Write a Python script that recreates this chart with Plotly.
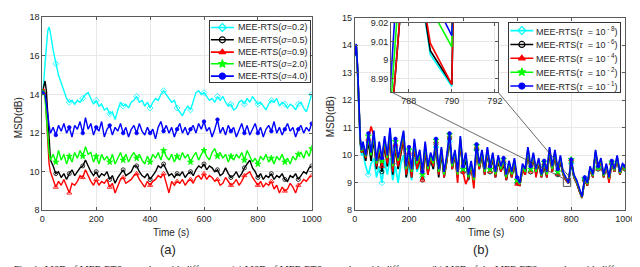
import plotly.graph_objects as go

W, H = 640, 267

# ---------------- data: panel (a) ----------------
t_a = [0, 5, 10, 15, 20, 25, 30] + list(range(40, 1001, 10))
a_s02 = [14.1, 14.6, 15.6, 16.6, 17.3, 17.5, 17.2,
         16.3, 15.6, 15.0, 14.6, 14.2, 13.8, 13.6, 13.7, 13.5, 13.7,
         13.6, 13.8, 14.0, 14.1, 13.8, 13.5, 13.7, 13.4, 13.5, 13.2,
         13.3, 13.0, 13.1, 12.7, 13.2, 13.6, 13.4, 13.5, 13.3, 13.6,
         13.7, 13.9, 13.6, 13.7, 13.4, 13.6, 13.3, 13.6, 13.8, 13.7,
         14.0, 14.2, 14.0, 13.8, 13.6, 13.7, 13.3, 13.1, 12.9, 13.2,
         13.4, 13.2, 13.6, 14.1, 14.2, 14.0, 14.1, 13.9, 13.7, 13.8,
         13.6, 13.9, 13.7, 13.9, 13.6, 13.4, 13.5, 13.2, 13.3, 13.6,
         13.7, 13.5, 13.8, 13.6, 13.9, 13.7, 13.5, 13.6, 13.4, 13.2,
         13.5, 13.7, 13.6, 13.8, 13.4, 13.6, 13.5, 13.3, 13.5, 13.4,
         13.2, 13.5, 13.6, 13.3, 13.1, 13.5, 14.0]
a_s05 = [14.1, 14.5, 14.7, 14.2, 12.8, 11.3, 10.6,
         10.3, 9.9, 10.0, 9.7, 9.9, 9.6, 9.9, 10.1, 9.8, 10.0,
         10.2, 10.3, 10.6, 10.3, 10.0, 9.8, 10.0, 9.7, 9.9, 9.8,
         10.0, 9.6, 9.8, 9.4, 9.7, 9.9, 10.1, 9.8, 9.9, 10.0,
         10.3, 10.3, 10.0, 9.8, 9.7, 9.9, 9.6, 9.8, 10.0, 10.3,
         10.2, 10.4, 10.1, 9.8, 9.9, 9.7, 9.9, 9.8, 10.0, 9.7,
         9.9, 10.0, 9.8, 10.1, 10.3, 10.2, 10.4, 10.1, 10.3, 10.2,
         10.0, 10.1, 9.8, 9.9, 10.2, 9.9, 9.7, 9.8, 10.0, 9.7,
         9.9, 10.2, 10.4, 10.6, 10.2, 10.0, 9.7, 9.9, 9.6, 9.8,
         9.7, 9.9, 9.6, 9.8, 9.7, 9.9, 9.6, 9.5, 9.8, 9.7,
         9.9, 9.6, 9.8, 10.0, 9.9, 10.2, 10.3]
a_s09 = [14.1, 14.3, 14.1, 13.0, 11.5, 10.4, 10.0,
         9.6, 9.2, 9.5, 9.3, 9.6, 9.2, 8.9, 9.4, 9.3, 9.5,
         9.8, 9.7, 10.1, 9.8, 9.5, 9.3, 9.6, 9.3, 9.5, 9.4,
         9.6, 9.2, 9.4, 8.9, 9.3, 9.6, 9.7, 9.4, 9.5, 9.6,
         9.8, 9.9, 9.6, 9.4, 9.2, 9.5, 9.3, 9.5, 9.6, 9.8,
         9.7, 9.9, 9.4, 8.9, 9.5, 9.3, 9.5, 9.4, 9.6, 9.3,
         9.5, 9.6, 9.4, 9.7, 9.8, 9.6, 9.9, 9.6, 9.8, 9.7,
         9.5, 9.6, 9.3, 9.4, 9.7, 9.5, 9.3, 9.4, 9.6, 9.3,
         9.5, 9.8, 9.9, 10.0, 9.7, 9.5, 9.3, 9.5, 9.2, 9.4,
         9.3, 9.5, 9.1, 9.3, 8.9, 9.2, 9.0, 9.1, 9.4, 9.2,
         8.9, 9.3, 9.4, 9.6, 9.5, 9.7, 9.8]
a_s20 = [14.1, 14.2, 13.8, 12.8, 11.7, 11.0, 10.6,
         10.9, 10.5, 11.1, 10.6, 10.9, 10.4, 10.8, 10.5, 11.0, 10.7,
         11.1, 10.8, 11.3, 10.9, 11.0, 10.5, 10.8, 10.4, 10.9, 10.6,
         10.8, 10.5, 10.9, 10.4, 10.7, 11.0, 10.6, 10.9, 10.5, 10.8,
         11.0, 10.7, 10.9, 10.6, 10.4, 10.8, 10.5, 10.9, 10.7, 11.0,
         10.6, 11.1, 10.8, 10.6, 10.9, 10.5, 10.8, 10.6, 11.0, 10.7,
         10.9, 10.5, 10.8, 11.0, 10.6, 10.9, 11.1, 10.8, 10.6, 11.0,
         11.2, 10.8, 11.0, 10.7, 10.9, 10.5, 10.8, 10.6, 10.9, 10.7,
         11.0, 10.6, 11.1, 10.8, 10.5, 10.7, 10.4, 10.8, 10.6, 10.9,
         10.5, 10.7, 10.4, 10.8, 10.6, 10.9, 10.5, 10.7, 10.4, 10.8,
         10.6, 10.9, 11.0, 10.7, 11.1, 10.8, 11.2]
a_s40 = [14.1, 14.1, 14.0, 13.6, 13.0, 12.4, 12.0,
         12.3, 11.9, 12.4, 12.1, 12.5, 12.0, 12.3, 11.8, 12.4, 12.2,
         12.6, 12.0, 12.8, 12.2, 12.5, 11.9, 12.3, 12.1, 12.6, 11.8,
         12.2, 12.4, 11.9, 12.3, 12.1, 12.5, 12.0, 12.3, 11.8, 12.2,
         12.4, 12.0, 12.5, 12.1, 11.9, 12.3, 12.0, 12.2, 11.7, 12.3,
         12.6, 12.1, 12.4, 12.0, 12.3, 11.8, 12.2, 12.5, 12.0, 12.3,
         11.9, 12.2, 12.4, 12.0, 12.5, 12.2, 12.6, 12.1, 12.3, 11.8,
         12.2, 12.7, 12.0, 12.3, 11.9, 12.4, 12.1, 12.3, 11.8, 12.2,
         12.5, 12.0, 12.4, 11.9, 12.2, 12.5, 12.0, 12.3, 11.8, 12.2,
         12.4, 12.1, 12.6, 12.0, 12.3, 11.9, 12.2, 12.5, 12.1, 12.3,
         11.8, 12.2, 12.4, 12.0, 12.3, 12.1, 12.5]

# ---------------- data: panel (b) ----------------
t_b = [0, 5, 10, 15, 20, 25, 30] + list(range(40, 1001, 10))
b_t8 = [13.7, 13.9, 13.0, 11.3, 10.4, 10.0, 10.1,
        9.6, 9.3, 9.7, 9.9, 9.2, 9.6, 9.0, 9.8, 9.3, 9.9,
        9.1, 9.6, 9.0, 9.7, 10.0, 9.2, 9.6, 9.1, 9.9, 9.4,
        9.7, 9.2, 10.1, 9.4, 9.8, 9.5, 10.3, 9.3, 10.0, 9.2,
        9.8, 10.5, 9.5, 10.0, 9.2, 10.5, 9.4, 9.9, 9.1, 9.6,
        9.0, 10.2, 9.5, 10.0, 9.3, 10.1, 9.4, 9.9, 9.2, 9.8,
        9.4, 9.7, 9.1, 9.6, 9.2, 9.7, 9.0, 8.9, 9.5, 9.3,
        10.1, 9.4, 9.9, 9.3, 9.7, 9.2, 9.6, 9.2, 10.1, 9.4,
        10.0, 9.3, 9.8, 9.3, 9.1, 8.99, 9.7, 9.2, 9.0, 8.7,
        8.45, 9.1, 8.9, 9.5, 9.2, 10.0, 9.5, 9.8, 9.2, 9.6,
        9.1, 9.7, 9.4, 9.9, 9.3, 9.6, 9.5]
b_t6 = [13.7, 13.95, 13.1, 11.4, 10.5, 10.1, 10.3,
        9.8, 10.5, 9.8, 10.6, 9.5, 10.2, 9.4, 10.4, 9.6, 10.7,
        9.3, 10.3, 9.5, 10.1, 10.6, 9.2, 10.0, 9.2, 10.3, 9.5,
        9.9, 9.1, 10.2, 9.3, 9.9, 9.5, 10.4, 9.2, 10.1, 9.2,
        9.8, 10.6, 9.5, 10.0, 9.2, 10.5, 9.4, 9.9, 9.1, 9.6,
        9.0, 10.2, 9.5, 10.0, 9.3, 10.1, 9.4, 9.9, 9.2, 9.8,
        9.4, 9.7, 9.1, 9.6, 9.2, 9.7, 9.0, 8.9, 9.5, 9.3,
        10.1, 9.4, 9.9, 9.3, 9.7, 9.2, 9.6, 9.2, 10.1, 9.4,
        10.0, 9.3, 9.8, 9.3, 9.1, 8.99, 9.75, 9.2, 9.0, 8.7,
        8.45, 9.1, 8.9, 9.5, 9.2, 10.1, 9.5, 9.8, 9.2, 9.6,
        9.1, 9.7, 9.4, 9.9, 9.3, 9.6, 9.5]
b_t4 = [13.7, 14.0, 13.1, 11.4, 10.5, 10.1, 10.4,
        9.9, 10.6, 11.05, 10.7, 9.6, 10.3, 9.6, 10.5, 9.7, 10.8,
        9.4, 10.4, 9.6, 10.2, 10.7, 9.3, 10.1, 9.2, 10.4, 9.5,
        10.0, 9.1, 10.3, 9.3, 9.9, 9.6, 10.5, 9.3, 10.2, 9.2,
        9.8, 10.7, 9.5, 10.1, 9.0, 10.6, 9.4, 8.95, 9.2, 9.6,
        8.8, 10.3, 9.5, 10.1, 9.3, 10.2, 9.4, 10.0, 9.2, 9.9,
        9.4, 9.8, 9.1, 9.7, 9.2, 9.8, 8.95, 8.9, 9.5, 9.3,
        10.2, 9.4, 10.0, 9.2, 9.8, 9.2, 9.7, 9.2, 10.2, 9.4,
        10.1, 9.3, 9.9, 9.3, 9.1, 8.99, 9.85, 9.2, 9.0, 8.7,
        8.45, 9.1, 8.9, 9.5, 9.2, 10.1, 9.5, 9.8, 9.2, 9.6,
        9.0, 9.7, 9.4, 9.9, 9.3, 9.6, 9.5]
b_t2 = [13.7, 14.0, 13.15, 11.45, 10.55, 10.15, 10.45,
        9.95, 10.7, 10.0, 10.8, 9.7, 10.4, 9.8, 10.6, 9.9, 10.9,
        9.6, 10.5, 9.8, 10.3, 10.85, 9.5, 10.2, 9.4, 10.5, 9.7,
        10.1, 9.3, 10.4, 9.5, 10.0, 9.7, 10.55, 9.4, 10.25, 9.3,
        9.9, 10.75, 9.6, 10.15, 9.3, 10.65, 9.5, 10.05, 9.2, 9.7,
        9.1, 10.35, 9.6, 10.15, 9.4, 10.25, 9.5, 10.05, 9.3, 9.95,
        9.5, 9.85, 9.2, 9.75, 9.3, 9.85, 9.1, 8.95, 9.6, 9.4,
        10.25, 9.5, 10.05, 9.4, 9.85, 9.25, 9.75, 9.3, 10.25, 9.5,
        10.15, 9.4, 9.95, 9.35, 9.15, 9.0, 9.85, 9.25, 9.05, 8.75,
        8.48, 9.15, 8.95, 9.55, 9.25, 10.15, 9.55, 9.85, 9.25, 9.65,
        9.15, 9.75, 9.45, 9.95, 9.35, 9.65, 9.55]
b_t1 = [13.7, 14.05, 13.2, 11.5, 10.6, 10.2, 10.5,
        10.0, 10.8, 10.1, 10.9, 9.8, 10.5, 9.9, 10.7, 10.0, 11.0,
        9.7, 10.6, 9.9, 10.4, 10.9, 9.6, 10.3, 9.5, 10.6, 9.8,
        10.2, 9.4, 10.5, 9.6, 10.1, 9.8, 10.6, 9.5, 10.3, 9.4,
        10.0, 10.8, 9.7, 10.2, 9.4, 10.7, 9.6, 10.1, 9.3, 9.8,
        9.2, 10.4, 9.7, 10.2, 9.5, 10.3, 9.6, 10.1, 9.4, 10.0,
        9.6, 9.9, 9.3, 9.8, 9.4, 9.9, 9.2, 9.0, 9.7, 9.5,
        10.3, 9.6, 10.1, 9.5, 9.9, 9.3, 9.8, 9.4, 10.3, 9.6,
        10.2, 9.5, 10.0, 9.4, 9.2, 9.0, 9.85, 9.3, 9.1, 8.8,
        8.5, 9.2, 9.0, 9.6, 9.3, 10.2, 9.6, 9.9, 9.3, 9.7,
        9.2, 9.8, 9.5, 10.0, 9.4, 9.7, 9.6]

# zoomed detail around t = 790 s (inset of panel b)
t_z = [786, 787, 788, 789, 790, 791, 792, 793]
z_t8 = [9.30, 8.94, 9.08, 9.003, 8.986, 9.60, 9.45, 9.50]
z_t6 = [9.30, 8.94, 9.08, 9.005, 8.987, 9.60, 9.45, 9.50]
z_t4 = [9.30, 8.94, 9.08, 9.009, 8.987, 9.60, 9.45, 9.50]
z_t2 = [9.30, 8.95, 9.11, 9.028, 9.007, 9.60, 9.45, 9.50]
z_t1 = [9.30, 8.96, 9.14, 9.036, 9.013, 9.60, 9.45, 9.50]

names_a = ["MEE-RTS(<i>σ</i>=0.2)", "MEE-RTS(<i>σ</i>=0.5)", "MEE-RTS(<i>σ</i>=0.9)",
           "MEE-RTS(<i>σ</i>=2.0)", "MEE-RTS(<i>σ</i>=4.0)"]
names_b = ["MEE-RTS(<i>τ</i>  = 10<sup> - 8</sup>)", "MEE-RTS(<i>τ</i>  = 10<sup> - 6</sup>)",
           "MEE-RTS(<i>τ</i>  = 10<sup> - 4</sup>)", "MEE-RTS(<i>τ</i>  = 10<sup> - 2</sup>)",
           "MEE-RTS(<i>τ</i>  = 10<sup> - 1</sup>)"]
colors = ["#00FFFF", "#000000", "#FF0000", "#00FF00", "#0000FF"]
plot_symbols = ["diamond-open", "circle-open", "triangle-up-open", "star", "circle"]
plot_sizes = [4.5, 4, 4.5, 4.5, 3.5]
leg_symbols = ["diamond-open", "circle-open", "triangle-up", "star", "circle"]

x_ticks = [0, 200, 400, 600, 800, 1000]
ya_ticks = [8, 10, 12, 14, 16, 18]
yb_ticks = [8, 9, 10, 11, 12, 13, 14, 15]
zx_ticks = [788, 790, 792]
zy_ticks = [8.99, 9.0, 9.01, 9.02]
zy_labels = ["8.99", "9", "9.01", "9.02"]

# ---------------- layout helpers (pixel -> paper) ----------------
def fx(p):
    return p / W

def fy(p):
    return 1 - p / H

FONT = "Liberation Sans, Arial, sans-serif"
AX = "#5a5a5a"
GRID = "#e8e8e8"
TXT = "#262626"

dom = {
    "a": ([32, 307], [4.5, 205]),
    "b": ([351, 627], [5, 205]),
    "la": ([203, 305], [8, 72]),
    "lb": ([508, 622], [10, 82]),
    "z": ([388, 497], [10, 82]),
}

def xd(k):
    return [fx(dom[k][0][0]), fx(dom[k][0][1])]

def yd(k):
    return [fy(dom[k][1][1]), fy(dom[k][1][0])]

fig = go.Figure()

# panel (a)
for vals, col, sym, ms in zip([a_s02, a_s05, a_s09, a_s20, a_s40], colors, plot_symbols, plot_sizes):
    fig.add_trace(go.Scatter(x=t_a, y=vals, mode="lines", line=dict(color=col, width=1.4),
                             xaxis="x", yaxis="y", showlegend=False, hoverinfo="skip"))
    idx = [i for i, t in enumerate(t_a) if t % 50 == 0]
    fig.add_trace(go.Scatter(x=[t_a[i] for i in idx], y=[vals[i] for i in idx], mode="markers",
                             marker=dict(color=col, symbol=sym, size=ms, line=dict(color=col, width=0.8)),
                             xaxis="x", yaxis="y", showlegend=False, hoverinfo="skip"))

# panel (b)
for vals, col, sym, ms in zip([b_t8, b_t6, b_t4, b_t2, b_t1], colors, plot_symbols, plot_sizes):
    fig.add_trace(go.Scatter(x=t_b, y=vals, mode="lines", line=dict(color=col, width=1.7),
                             xaxis="x2", yaxis="y2", showlegend=False, hoverinfo="skip"))
    idx = [i for i, t in enumerate(t_b) if t % 50 == 0]
    fig.add_trace(go.Scatter(x=[t_b[i] for i in idx], y=[vals[i] for i in idx], mode="markers",
                             marker=dict(color=col, symbol=sym, size=ms, line=dict(color=col, width=0.8)),
                             xaxis="x2", yaxis="y2", showlegend=False, hoverinfo="skip"))

# legend (a) samples
leg_a_y = [0.89, 0.69, 0.49, 0.30, 0.10]
for yy, col, sym in zip(leg_a_y, colors, leg_symbols):
    fig.add_trace(go.Scatter(x=[0.01, 0.24], y=[yy, yy], mode="lines", line=dict(color=col, width=1.6),
                             xaxis="x3", yaxis="y3", showlegend=False, hoverinfo="skip"))
    fig.add_trace(go.Scatter(x=[0.125], y=[yy], mode="markers",
                             marker=dict(color=col, symbol=sym, size=6, line=dict(color=col, width=1.2)),
                             xaxis="x3", yaxis="y3", showlegend=False, hoverinfo="skip"))

# legend (b) samples
leg_b_y = [0.885, 0.685, 0.485, 0.285, 0.085]
for yy, col, sym in zip(leg_b_y, colors, leg_symbols):
    fig.add_trace(go.Scatter(x=[0.015, 0.22], y=[yy, yy], mode="lines", line=dict(color=col, width=1.6),
                             xaxis="x4", yaxis="y4", showlegend=False, hoverinfo="skip"))
    fig.add_trace(go.Scatter(x=[0.118], y=[yy], mode="markers",
                             marker=dict(color=col, symbol=sym, size=6, line=dict(color=col, width=1.2)),
                             xaxis="x4", yaxis="y4", showlegend=False, hoverinfo="skip"))

# inset
for vals, col in zip([z_t8, z_t6, z_t4, z_t2, z_t1], colors):
    fig.add_trace(go.Scatter(x=t_z, y=vals, mode="lines", line=dict(color=col, width=1.6),
                             xaxis="x5", yaxis="y5", showlegend=False, hoverinfo="skip",
                             cliponaxis=True))

def main_axis(**kw):
    d = dict(showline=True, linecolor=AX, linewidth=1, mirror="ticks", ticks="inside",
             ticklen=3, tickcolor=AX, showgrid=True, gridcolor=GRID, gridwidth=1, zeroline=False,
             tickfont=dict(family=FONT, size=9, color=TXT))
    d.update(kw)
    return d

def box_axis(**kw):
    d = dict(showline=True, linecolor="#333333", linewidth=1, mirror=True, ticks="",
             showticklabels=False, showgrid=False, zeroline=False, range=[0, 1], fixedrange=True)
    d.update(kw)
    return d

fig.update_layout(
    width=W, height=H, margin=dict(l=0, r=0, t=0, b=0),
    paper_bgcolor="white", plot_bgcolor="white", showlegend=False,
    xaxis=main_axis(domain=xd("a"), range=[0, 1000], tickvals=x_ticks, anchor="y"),
    yaxis=main_axis(domain=yd("a"), range=[8, 18], tickvals=ya_ticks, anchor="x"),
    xaxis2=main_axis(domain=xd("b"), range=[0, 1000], tickvals=x_ticks, anchor="y2"),
    yaxis2=main_axis(domain=yd("b"), range=[8, 15], tickvals=yb_ticks, anchor="x2"),
    xaxis3=box_axis(domain=xd("la"), anchor="y3"),
    yaxis3=box_axis(domain=yd("la"), anchor="x3"),
    xaxis4=box_axis(domain=xd("lb"), anchor="y4"),
    yaxis4=box_axis(domain=yd("lb"), anchor="x4"),
    xaxis5=main_axis(domain=xd("z"), range=[787.18, 792.14], tickvals=zx_ticks, anchor="y5"),
    yaxis5=main_axis(domain=yd("z"), range=[8.983, 9.02], tickvals=zy_ticks, ticktext=zy_labels,
                     anchor="x5"),
)

ann = []
def txt(x, y, s, size=9, xanchor="center", yanchor="middle", angle=0, family=FONT, color=TXT,
        xref="paper", yref="paper"):
    ann.append(dict(x=x, y=y, xref=xref, yref=yref, text=s, showarrow=False, xanchor=xanchor,
                    yanchor=yanchor, textangle=angle, font=dict(family=family, size=size, color=color)))

# legend labels
for yy, s in zip(leg_a_y, names_a):
    txt(0.262, yy, s, size=9, xanchor="left", xref="x3", yref="y3")
for yy, s in zip(leg_b_y, names_b):
    txt(0.225, yy, s, size=9, xanchor="left", xref="x4", yref="y4")

# axis titles and panel tags
txt(fx(163), fy(228), "Time (s)", size=10)
txt(fx(485), fy(228), "Time (s)", size=10)
txt(fx(8.5), fy(109), "MSD(dB)", size=10, angle=-90)
txt(fx(327), fy(108), "MSD(dB)", size=10, angle=-90)
txt(fx(160), fy(246), "(a)", size=13)
txt(fx(479.5), fy(246), "(b)", size=13)
txt(fx(1), fy(258.5), "Fig. 4.  MSD of MEE-RTS smoother with different <i>σ</i>. (a) MSD of MEE-RTS smoother with different <i>σ</i>. (b) MSD of the MEE-RTS smoother with different",
    size=10, xanchor="left", yanchor="top", family="Liberation Serif, Times New Roman, serif",
    color="#222222")
fig.update_layout(annotations=ann)

# zoom box on panel (b) and connector lines
box_t = [771, 798]
box_v = [8.87, 9.16]
fig.add_shape(type="rect", xref="x2", yref="y2", x0=box_t[0], x1=box_t[1], y0=box_v[0], y1=box_v[1],
              line=dict(color="#555555", width=1), layer="above")

def bx(t):
    d = xd("b")
    return d[0] + (t - 0) / 1000 * (d[1] - d[0])

def by(v):
    d = yd("b")
    return d[0] + (v - 8) / 7 * (d[1] - d[0])

zx0, zx1 = xd("z")
zy0 = yd("z")[0]
fig.add_shape(type="line", xref="paper", yref="paper", x0=zx0, y0=zy0, x1=bx(box_t[0]), y1=by(box_v[1]),
              line=dict(color="#444444", width=0.8), layer="above")
fig.add_shape(type="line", xref="paper", yref="paper", x0=zx1, y0=zy0, x1=bx(box_t[1]), y1=by(box_v[1]),
              line=dict(color="#444444", width=0.8), layer="above")

fig.write_html("out.html")
